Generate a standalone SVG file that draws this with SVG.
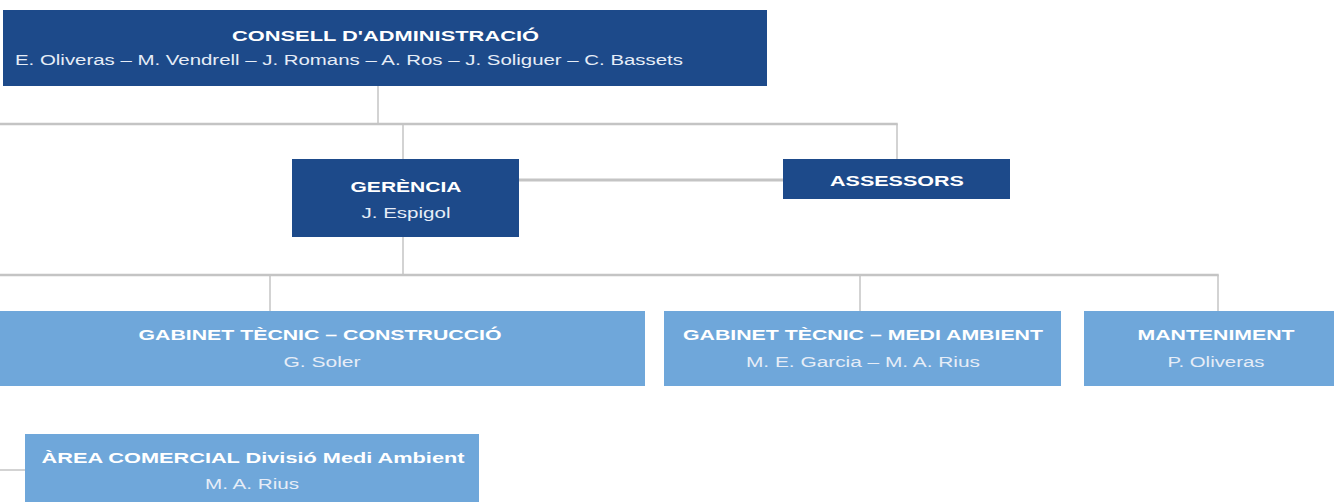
<svg xmlns="http://www.w3.org/2000/svg" width="1334" height="502" viewBox="0 0 1334 502">
<style>
.dark{fill:#1d4a8a}
.light{fill:#6fa7da}
.t{font-family:"Liberation Sans",Arial,sans-serif;font-weight:bold;font-size:15px;fill:#ffffff;text-anchor:middle}
.s{font-family:"Liberation Sans",Arial,sans-serif;font-size:14px;fill:#e6edf7;text-anchor:middle}
.c{stroke:#c4c4c4;fill:none}
.h{stroke-width:2.5}
.v{stroke-width:1.5}
</style>
<rect width="1334" height="502" fill="#ffffff"/>
<g id="connectors">
<line class="c v" x1="378" y1="86" x2="378" y2="124"/>
<line class="c h" x1="0" y1="124" x2="897.75" y2="124"/>
<line class="c v" x1="403" y1="124" x2="403" y2="159"/>
<line class="c v" x1="897" y1="124" x2="897" y2="159"/>
<line class="c" stroke-width="3" x1="519" y1="180" x2="783" y2="180"/>
<line class="c v" x1="403" y1="237" x2="403" y2="275"/>
<line class="c h" x1="0" y1="275" x2="1218.75" y2="275"/>
<line class="c v" x1="270" y1="275" x2="270" y2="311"/>
<line class="c v" x1="860" y1="275" x2="860" y2="311"/>
<line class="c v" x1="1218" y1="275" x2="1218" y2="311"/>
<line class="c v" x1="0" y1="470" x2="25" y2="470"/>
</g>
<g id="consell">
<rect class="dark" x="3" y="10" width="764" height="76"/>
<text class="t" x="385.5" y="41" font-size="16" textLength="307" lengthAdjust="spacingAndGlyphs">CONSELL D'ADMINISTRACIÓ</text>
<text class="s" x="349" y="65" font-size="15" textLength="668" lengthAdjust="spacingAndGlyphs">E. Oliveras – M. Vendrell – J. Romans – A. Ros – J. Soliguer – C. Bassets</text>
</g>
<g id="gerencia">
<rect class="dark" x="292" y="159" width="227" height="78"/>
<text class="t" x="406" y="192" textLength="111" lengthAdjust="spacingAndGlyphs">GERÈNCIA</text>
<text class="s" x="406" y="218" textLength="89" lengthAdjust="spacingAndGlyphs">J. Espigol</text>
</g>
<g id="assessors">
<rect class="dark" x="783" y="159" width="227" height="40"/>
<text class="t" x="897" y="186" textLength="134" lengthAdjust="spacingAndGlyphs">ASSESSORS</text>
</g>
<g id="gabinet-construccio">
<rect class="light" x="0" y="311" width="645" height="75"/>
<text class="t" x="320" y="340" textLength="363" lengthAdjust="spacingAndGlyphs">GABINET TÈCNIC – CONSTRUCCIÓ</text>
<text class="s" x="322" y="367" textLength="77" lengthAdjust="spacingAndGlyphs">G. Soler</text>
</g>
<g id="gabinet-medi-ambient">
<rect class="light" x="664" y="311" width="397" height="75"/>
<text class="t" x="863" y="340" textLength="360" lengthAdjust="spacingAndGlyphs">GABINET TÈCNIC – MEDI AMBIENT</text>
<text class="s" x="863" y="367" textLength="234" lengthAdjust="spacingAndGlyphs">M. E. Garcia – M. A. Rius</text>
</g>
<g id="manteniment">
<rect class="light" x="1084" y="311" width="250" height="75"/>
<text class="t" x="1216" y="340" textLength="157" lengthAdjust="spacingAndGlyphs">MANTENIMENT</text>
<text class="s" x="1216" y="367" textLength="97" lengthAdjust="spacingAndGlyphs">P. Oliveras</text>
</g>
<g id="area-comercial">
<rect class="light" x="25" y="434" width="454" height="70"/>
<text class="t" x="253" y="463" textLength="423" lengthAdjust="spacingAndGlyphs">ÀREA COMERCIAL Divisió Medi Ambient</text>
<text class="s" x="252" y="489" textLength="94" lengthAdjust="spacingAndGlyphs">M. A. Rius</text>
</g>
</svg>
